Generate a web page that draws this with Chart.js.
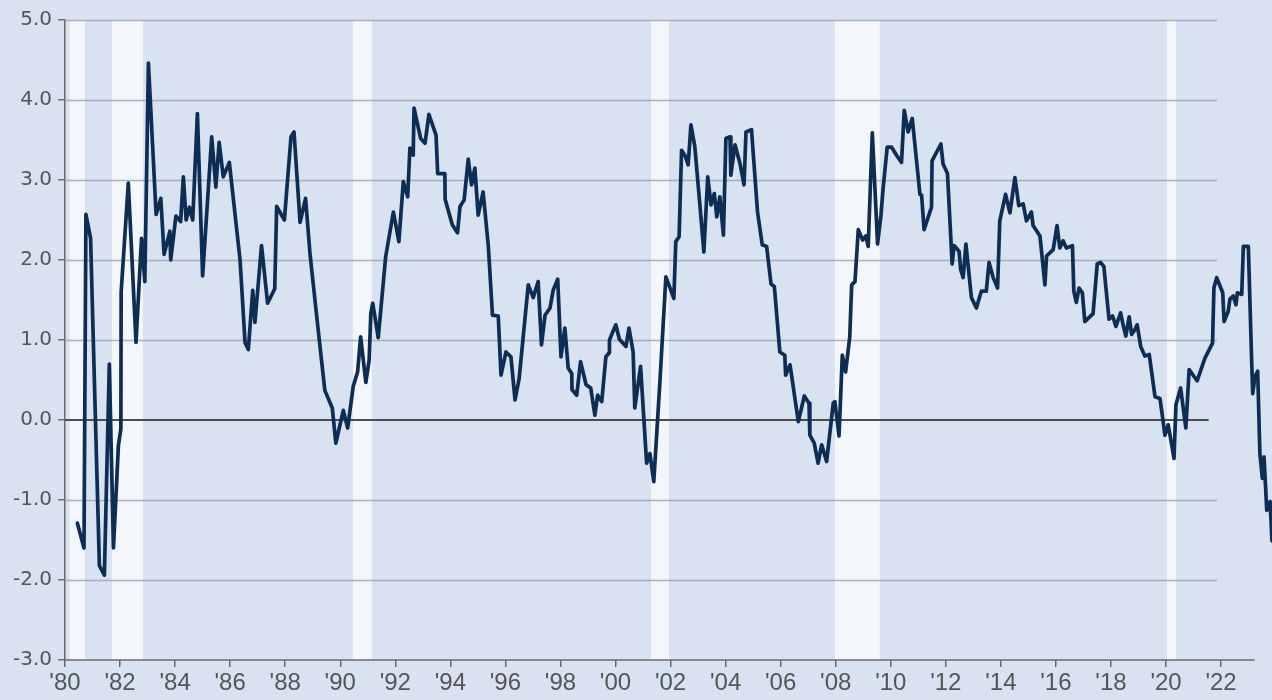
<!DOCTYPE html>
<html>
<head>
<meta charset="utf-8">
<script src="https://cdn.jsdelivr.net/npm/chart.js@4"></script>
<style>
  html, body { margin: 0; padding: 0; background: #d9e2f1; }
  #wrap { width: 1272px; height: 700px; position: relative; }
</style>
</head>
<body>
<div id="wrap"><canvas id="c" width="1272" height="700"></canvas></div>
<script>
// ---- data (decimal year, spread in percentage points) ----
const dates = [
1980.45,1980.69,1980.76,1980.93,1981.03,1981.25,1981.43,1981.61,1981.76,1981.94,1982.03,1982.04,1982.30,1982.58,1982.78,1982.90,
1983.03,1983.31,1983.48,1983.60,1983.81,1983.84,1984.03,1984.20,1984.30,1984.40,1984.52,1984.64,1984.81,1985.00,1985.33,1985.48,
1985.60,1985.75,1985.97,1986.36,1986.54,1986.66,1986.82,1986.90,1987.14,1987.36,1987.62,1987.69,1987.97,1988.21,1988.32,1988.54,
1988.74,1988.90,1989.20,1989.44,1989.71,1989.84,1990.11,1990.27,1990.47,1990.63,1990.74,1990.93,1991.05,1991.11,1991.18,1991.38,
1991.65,1991.93,1992.13,1992.29,1992.45,1992.53,1992.65,1992.68,1992.92,1993.08,1993.22,1993.48,1993.54,1993.80,1993.81,1994.07,
1994.26,1994.35,1994.50,1994.65,1994.77,1994.89,1995.01,1995.19,1995.38,1995.53,1995.74,1995.84,1996.02,1996.20,1996.35,1996.50,
1996.83,1997.01,1997.19,1997.31,1997.44,1997.62,1997.74,1997.90,1998.02,1998.16,1998.28,1998.41,1998.42,1998.59,1998.73,1998.93,
1999.10,1999.25,1999.35,1999.50,1999.65,1999.77,1999.78,2000.01,2000.14,2000.38,2000.49,2000.64,2000.70,2000.91,2001.13,2001.25,
2001.39,2001.61,2001.83,2002.12,2002.19,2002.31,2002.40,2002.52,2002.64,2002.74,2002.88,2003.07,2003.21,2003.35,2003.47,2003.59,
2003.68,2003.79,2003.92,2004.01,2004.16,2004.19,2004.34,2004.52,2004.67,2004.74,2004.94,2005.16,2005.33,2005.49,2005.65,2005.77,
2005.97,2006.15,2006.18,2006.34,2006.64,2006.86,2007.03,2007.06,2007.22,2007.36,2007.49,2007.67,2007.91,2007.97,2008.12,2008.24,
2008.36,2008.51,2008.58,2008.70,2008.82,2008.98,2009.09,2009.18,2009.33,2009.52,2009.64,2009.72,2009.87,2010.03,2010.21,2010.39,
2010.49,2010.63,2010.78,2011.06,2011.12,2011.21,2011.48,2011.50,2011.82,2011.90,2012.06,2012.23,2012.30,2012.48,2012.54,2012.63,
2012.73,2012.93,2013.11,2013.29,2013.47,2013.57,2013.72,2013.88,2013.96,2014.17,2014.33,2014.51,2014.65,2014.81,2014.93,2015.11,
2015.17,2015.42,2015.60,2015.66,2015.90,2016.04,2016.14,2016.26,2016.38,2016.60,2016.65,2016.74,2016.84,2016.96,2017.05,2017.35,
2017.50,2017.62,2017.74,2017.93,2018.06,2018.18,2018.35,2018.44,2018.54,2018.66,2018.75,2018.87,2018.95,2019.08,2019.23,2019.39,
2019.60,2019.78,2019.88,2019.96,2020.08,2020.29,2020.36,2020.53,2020.72,2020.84,2021.13,2021.41,2021.69,2021.74,2021.84,2022.06,
2022.11,2022.26,2022.32,2022.44,2022.54,2022.59,2022.75,2022.81,2022.99,2023.11,2023.15,2023.23,2023.33,2023.41,2023.50,2023.56,
2023.66,2023.78,2023.85
];
const spread = [
-1.29,-1.60,2.57,2.27,0.97,-1.82,-1.94,0.70,-1.60,-0.32,-0.11,1.60,2.96,0.97,2.27,1.73,
4.46,2.57,2.77,2.07,2.36,2.00,2.55,2.48,3.04,2.50,2.66,2.50,3.83,1.80,3.54,2.91,
3.47,3.04,3.22,2.00,0.97,0.88,1.62,1.22,2.18,1.46,1.64,2.67,2.50,3.54,3.60,2.47,
2.77,2.08,1.12,0.37,0.15,-0.29,0.12,-0.10,0.42,0.60,1.04,0.47,0.75,1.33,1.46,1.03,
2.04,2.60,2.23,2.98,2.79,3.40,3.31,3.90,3.52,3.46,3.82,3.56,3.08,3.08,2.76,2.44,
2.34,2.67,2.75,3.26,2.94,3.15,2.56,2.85,2.17,1.31,1.30,0.56,0.85,0.79,0.25,0.52,
1.69,1.53,1.73,0.94,1.31,1.40,1.63,1.76,0.79,1.15,0.65,0.58,0.38,0.31,0.73,0.44,
0.40,0.06,0.31,0.23,0.79,0.84,1.00,1.19,1.01,0.92,1.15,0.85,0.15,0.67,-0.54,-0.42,
-0.77,0.46,1.79,1.52,2.23,2.29,3.37,3.31,3.19,3.69,3.42,2.67,2.10,3.04,2.69,2.83,
2.54,2.79,2.31,3.52,3.54,3.06,3.44,3.21,2.94,3.60,3.63,2.60,2.19,2.17,1.70,1.67,
0.85,0.81,0.56,0.69,-0.02,0.30,0.21,-0.19,-0.29,-0.54,-0.31,-0.52,0.21,0.23,-0.20,0.81,
0.60,1.04,1.69,1.73,2.38,2.25,2.30,2.17,3.59,2.20,2.55,2.89,3.41,3.41,3.31,3.22,
3.87,3.60,3.77,2.82,2.81,2.38,2.66,3.24,3.45,3.20,3.08,1.95,2.18,2.11,1.88,1.78,
2.20,1.53,1.40,1.61,1.61,1.97,1.78,1.65,2.49,2.82,2.59,3.03,2.68,2.70,2.49,2.60,
2.43,2.30,1.69,2.05,2.13,2.43,2.15,2.24,2.15,2.18,1.61,1.47,1.65,1.59,1.23,1.33,
1.95,1.97,1.92,1.26,1.30,1.17,1.34,1.19,1.05,1.29,1.07,1.13,1.19,0.92,0.80,0.82,
0.29,0.27,0.02,-0.19,-0.06,-0.48,0.19,0.40,-0.10,0.63,0.49,0.77,0.96,1.65,1.78,1.59,
1.23,1.36,1.51,1.55,1.44,1.59,1.57,2.17,2.17,0.75,0.33,0.54,0.61,-0.42,-0.73,-0.46,
-1.13,-1.02,-1.51
];
// recession periods (decimal years)
const recessionStarts = [1980.17, 1981.71, 1990.46, 2001.29, 2007.97, 2020.03];
const recessionEnds   = [1980.72, 1982.83, 1991.15, 2001.94, 2009.60, 2020.36];
// axis ticks
const xTickYears = [1980,1982,1984,1986,1988,1990,1992,1994,1996,1998,2000,2002,2004,2006,2008,2010,2012,2014,2016,2018,2020,2022];
const yTicks = [-3,-2,-1,0,1,2,3,4,5];
const xMin = 1980, xMax = 2023.85;
const gridEnd = 2021.85, zeroEnd = 2021.55, xAxisEnd = 2023.22;

const BG = '#d9e2f1', BAND = '#f3f6fb', LINE = '#0e2d55', TEXT = '#555555', AXIS = '#6a6a6a';

const decor = {
  id: 'decor',
  beforeDraw(chart) {
    const ctx = chart.ctx;
    ctx.save();
    ctx.fillStyle = BG;
    ctx.fillRect(0, 0, chart.width, chart.height);
    ctx.restore();
  },
  beforeDatasetsDraw(chart) {
    const { ctx, chartArea, scales } = chart;
    const xs = scales.x, ys = scales.y;
    ctx.save();
    // recession bands
    ctx.fillStyle = BAND;
    for (let i = 0; i < recessionStarts.length; i++) {
      const a = xs.getPixelForValue(recessionStarts[i]);
      const b = xs.getPixelForValue(recessionEnds[i]);
      ctx.fillRect(a, chartArea.top, b - a, chartArea.bottom - chartArea.top);
    }
    // horizontal gridlines
    ctx.strokeStyle = 'rgba(150,156,168,0.75)';
    ctx.lineWidth = 1.5;
    const gx = xs.getPixelForValue(gridEnd);
    yTicks.forEach(v => {
      if (v === 0 || v === yTicks[0]) return;
      const y = Math.round(ys.getPixelForValue(v)) + 0.5;
      ctx.beginPath();
      ctx.moveTo(chartArea.left, y);
      ctx.lineTo(gx, y);
      ctx.stroke();
    });
    // zero line
    ctx.strokeStyle = '#4d4d4d';
    ctx.lineWidth = 2;
    const y0 = ys.getPixelForValue(0);
    ctx.beginPath();
    ctx.moveTo(chartArea.left, y0);
    ctx.lineTo(xs.getPixelForValue(zeroEnd), y0);
    ctx.stroke();
    // x axis line
    ctx.strokeStyle = AXIS;
    ctx.lineWidth = 1.5;
    const yb = chartArea.bottom;
    ctx.beginPath();
    ctx.moveTo(chartArea.left, yb);
    ctx.lineTo(xs.getPixelForValue(xAxisEnd), yb);
    ctx.stroke();
    ctx.restore();
  }
};

new Chart(document.getElementById('c'), {
  type: 'line',
  data: {
    datasets: [{
      data: dates.map((d, i) => ({ x: d, y: spread[i] })),
      borderColor: LINE,
      borderWidth: 3.7,
      pointRadius: 0,
      tension: 0,
      borderJoinStyle: 'round',
      borderCapStyle: 'round',
      fill: false
    }]
  },
  options: {
    responsive: false,
    animation: false,
    devicePixelRatio: 1,
    layout: { padding: { top: 20, right: 0, bottom: 0, left: 0 } },
    plugins: { legend: { display: false }, tooltip: { enabled: false } },
    scales: {
      x: {
        type: 'linear',
        min: xMin,
        max: xMax,
        afterBuildTicks(scale) { scale.ticks = xTickYears.map(v => ({ value: v })); },
        afterFit(scale) { scale.height = 40; },
        border: { display: false },
        grid: { display: true, drawOnChartArea: false, drawTicks: true, tickLength: 7, color: AXIS, lineWidth: 1.5 },
        ticks: {
          color: TEXT,
          font: { family: '"Liberation Sans", Arial, sans-serif', size: 24 },
          padding: 2,
          maxRotation: 0,
          autoSkip: false,
          callback: v => "'" + String(v).slice(2)
        }
      },
      y: {
        type: 'linear',
        min: -3,
        max: 5,
        afterBuildTicks(scale) { scale.ticks = yTicks.map(v => ({ value: v })); },
        afterFit(scale) { scale.width = 65; },
        border: { display: true, color: AXIS, width: 1.5 },
        grid: { display: true, drawOnChartArea: false, drawTicks: true, tickLength: 7, color: AXIS, lineWidth: 1.5 },
        ticks: {
          color: TEXT,
          font: { family: '"DejaVu Sans", sans-serif', size: 20 },
          padding: 6,
          callback: v => Number(v).toFixed(1)
        }
      }
    }
  },
  plugins: [decor]
});
</script>
</body>
</html>
